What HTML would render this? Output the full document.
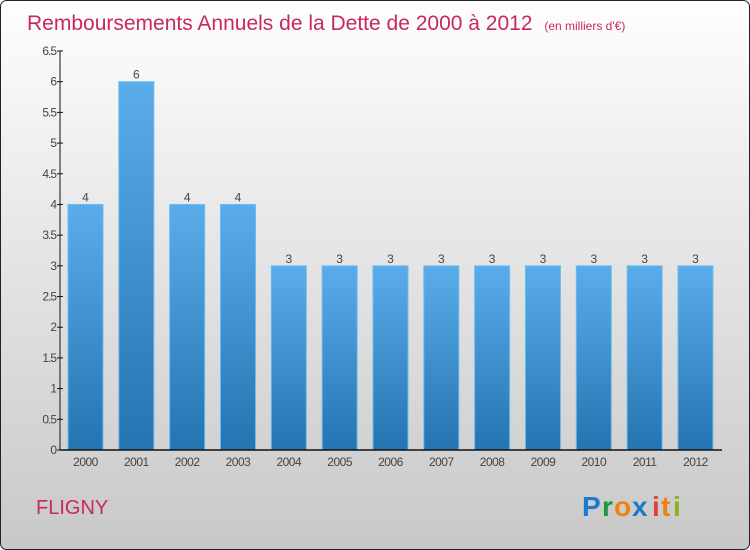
<!DOCTYPE html>
<html><head><meta charset="utf-8"><style>
html,body{margin:0;padding:0;width:750px;height:550px;overflow:hidden;}
svg{display:block;font-family:"Liberation Sans",sans-serif;}
</style></head><body>
<svg id="chart" width="750" height="550" viewBox="0 0 750 550">
<defs>
<linearGradient id="bg" x1="0" y1="0" x2="0" y2="1"><stop offset="0" stop-color="#fefefe"/><stop offset="1" stop-color="#c8c8c8"/></linearGradient>
<linearGradient id="bar" x1="0" y1="0" x2="0" y2="1"><stop offset="0" stop-color="#5aacea"/><stop offset="1" stop-color="#2574b2"/></linearGradient>
</defs>
<rect x="0.5" y="0.5" width="749" height="549" rx="6" fill="url(#bg)" stroke="#222"/>
<text x="27" y="30" font-size="21" fill="#c8285f">Remboursements Annuels de la Dette de 2000 à 2012 <tspan font-size="12" dx="6">(en milliers d'€)</tspan></text>
<g id="yaxis"></g>
<g id="bars"></g>
<g id="xaxis"></g>
<text x="36" y="514" font-size="20" fill="#c8285f">FLIGNY</text>
<g font-size="28" font-weight="bold">
<text x="582" y="516" fill="#1a7acc">P</text><text x="602" y="516" fill="#1a9a3a">r</text><text x="614" y="516" fill="#f08010">o</text><text x="632" y="516" fill="#1a7acc">x</text><text x="652" y="516" fill="#e04040">i</text><text x="661" y="516" fill="#f08010">t</text><text x="673" y="516" fill="#8ab020">i</text>
</g>
</svg>
<script>
const years=["2000","2001","2002","2003","2004","2005","2006","2007","2008","2009","2010","2011","2012"];
const values=[4,6,4,4,3,3,3,3,3,3,3,3,3];
const yTicks=[0,0.5,1,1.5,2,2.5,3,3.5,4,4.5,5,5.5,6,6.5];
const yTickLabels=["0","0.5","1","1.5","2","2.5","3","3.5","4","4.5","5","5.5","6","6.5"];
const NS="http://www.w3.org/2000/svg";
const y0=450,yTop=51,yMax=6.5;
const y=v=>y0-(v/yMax)*(y0-yTop);
const x=i=>68+i*50.83;
const bw=35;
function mk(t,a,p){const e=document.createElementNS(NS,t);for(const k in a)e.setAttribute(k,a[k]);p.appendChild(e);return e;}
const ya=document.getElementById('yaxis'),ba=document.getElementById('bars'),xa=document.getElementById('xaxis');
mk('line',{x1:60,y1:y(yMax),x2:60,y2:y0,stroke:'#111'},ya);
yTicks.forEach((v,i)=>{
 mk('line',{x1:57,x2:63,y1:y(v),y2:y(v),stroke:'#111'},ya);
 const t=mk('text',{x:56,y:y(v)+4,'text-anchor':'end','font-size':12,fill:'#444','letter-spacing':'-1'},ya);
 
 
 t.textContent=yTickLabels[i];
});
values.forEach((v,i)=>{
 const r=mk('rect',{x:x(i),y:y(v),width:bw,height:y0-y(v),fill:'url(#bar)',stroke:'#6cbcf0','stroke-width':1},ba);
 
 
 const t=mk('text',{x:x(i)+bw/2,y:y(v)-3,'text-anchor':'middle','font-size':12,fill:'#444'},ba);
 
 
 t.textContent=String(v);
 const l=mk('text',{x:x(i)+bw/2,y:466,'text-anchor':'middle','font-size':12,fill:'#444','letter-spacing':'-0.5'},xa);
 
 
 l.textContent=years[i];
});
mk('line',{x1:60,y1:y0,x2:722,y2:y0,stroke:'#111','stroke-width':1.5},xa);
</script>
</body></html>
